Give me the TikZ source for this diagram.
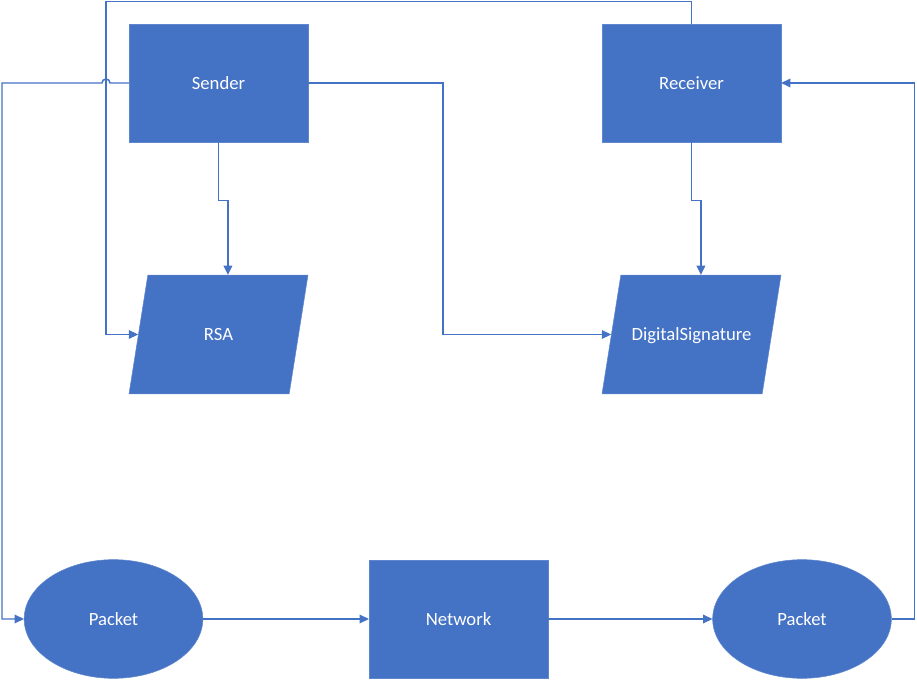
\documentclass[tikz,border=0pt]{standalone}
\usepackage{fontspec}
\setmainfont{Carlito}
\usetikzlibrary{shapes.geometric,arrows.meta,calc}
\definecolor{boxblue}{HTML}{4472C4}

\begin{document}
\begin{tikzpicture}[x=0.75pt,y=-0.75pt,
	box/.style={draw=boxblue!85!white, fill=boxblue, text=white, font=\fontsize{14}{16}\selectfont, minimum width=134pt, minimum height=88.5pt, inner sep=0pt},
	slanted/.style={box, trapezium, trapezium left angle=81, trapezium right angle=99, trapezium stretches=true, text width=106pt, align=center, text height=49pt, text depth=40pt, minimum width=134pt, minimum height=89pt},
	oval/.style={box, ellipse, minimum height=89pt},
	conn/.style={draw=boxblue, line width=1.1pt, -{Triangle[length=7pt, width=6.5pt]}}]
	\useasboundingbox (0,0) rectangle (917,680);
	\node[box] (sender) at (218.5,83) {Sender};
	\node[box] (receiver) at (691.5,83) {Receiver};
	\node[slanted] (rsa) at (218.5,334.5) {RSA};
	\node[slanted] (digsig) at (691.5,334.5) {DigitalSignature};
	\node[oval] (packetin) at (113.5,619) {Packet};
	\node[box] (network) at (458.5,619) {Network};
	\node[oval] (packetout) at (802,619) {Packet};
	\draw[conn] (sender.south) -- ++(0,58) -| ($(rsa.top left corner)!0.5!(rsa.top right corner)$);
	\draw[conn] (receiver.south) -- ++(0,58) -| ($(digsig.top left corner)!0.5!(digsig.top right corner)$);
	\draw[conn] (sender.east) -- ++(135,0) |- (digsig.west);
	\draw[conn] (receiver.north) -- ++(0,-22) -| ($(rsa.west)+(-32,0)$) -- (rsa.west);
	\draw[conn] (sender.west) -- (110,83) arc (0:-180:4) -- (2,83) |- (packetin.west);
	\draw[conn] (packetin.east) -- (network.west);
	\draw[conn] (network.east) -- (packetout.west);
	\draw[conn] (packetout.east) -- ++(23,0) |- (receiver.east);
\end{tikzpicture}
\end{document}
